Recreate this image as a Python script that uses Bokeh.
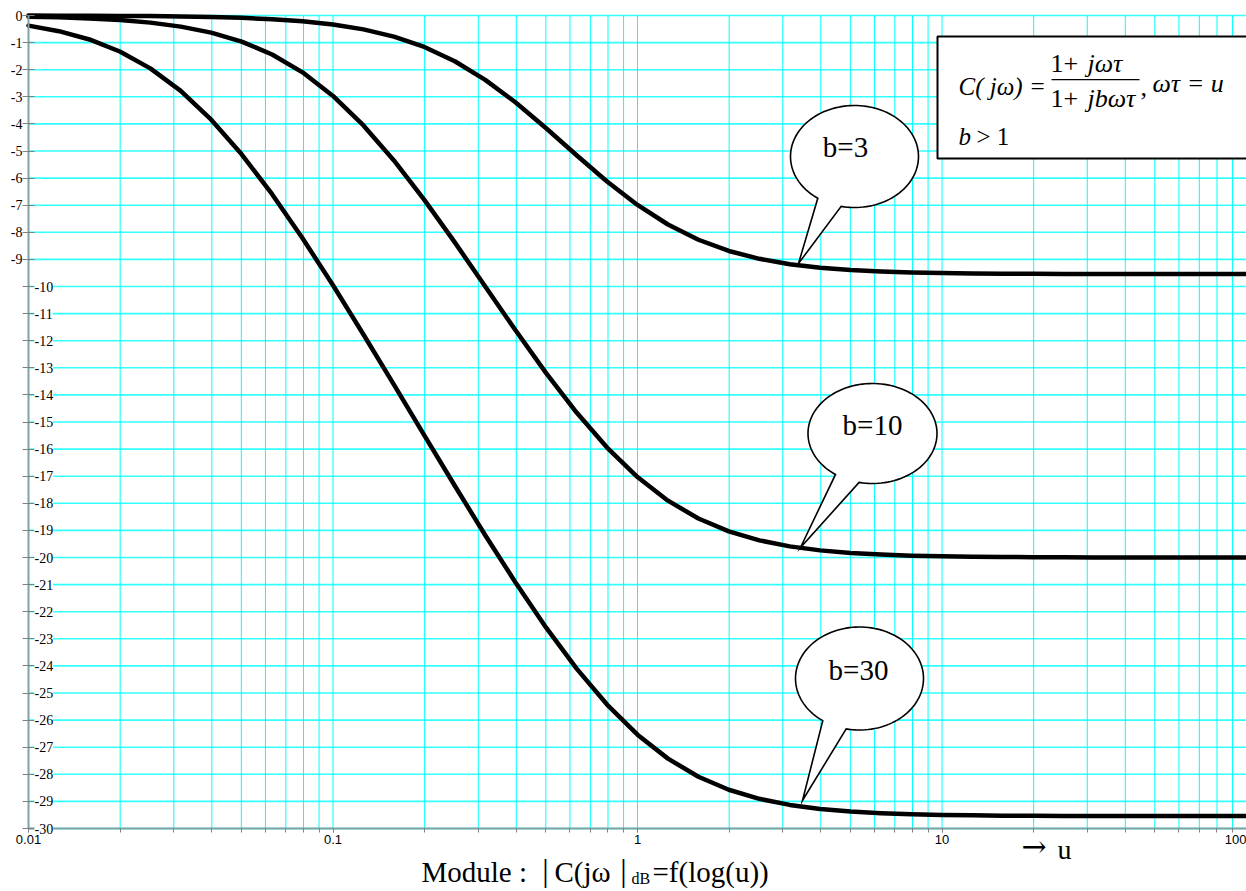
import numpy as np
from bokeh.plotting import figure
from bokeh.models import ColumnDataSource, LabelSet, Label, BoxAnnotation, FixedTicker, Range1d
from bokeh.embed import file_html
from bokeh.resources import INLINE

# Reduced frequency u = omega*tau, 10 points per decade
u = [0.01, 0.01259, 0.01585, 0.01995, 0.02512, 0.03162, 0.03981, 0.05012, 0.0631, 0.07943,
     0.1, 0.1259, 0.1585, 0.1995, 0.2512, 0.3162, 0.3981, 0.5012, 0.631, 0.7943,
     1.0, 1.259, 1.585, 1.995, 2.512, 3.162, 3.981, 5.012, 6.31, 7.943,
     10.0, 12.59, 15.85, 19.95, 25.12, 31.62, 39.81, 50.12, 63.1, 79.43, 100.0]

# |C(jw)| in dB for b = 3, 10, 30
mod_b3 = [-0.003, -0.006, -0.009, -0.014, -0.022, -0.035, -0.055, -0.086, -0.136, -0.213,
          -0.331, -0.511, -0.778, -1.160, -1.688, -2.374, -3.211, -4.160, -5.156, -6.123,
          -6.990, -7.712, -8.275, -8.689, -8.979, -9.177, -9.307, -9.392, -9.447, -9.482,
          -9.504, -9.518, -9.527, -9.533, -9.536, -9.539, -9.540, -9.541, -9.541, -9.542, -9.542]
mod_b10 = [-0.043, -0.068, -0.107, -0.168, -0.263, -0.410, -0.632, -0.962, -1.438, -2.097,
           -2.967, -4.056, -5.348, -6.804, -8.373, -10.000, -11.627, -13.197, -14.653, -15.944,
           -17.033, -17.903, -18.562, -19.038, -19.368, -19.590, -19.737, -19.832, -19.893, -19.932,
           -19.957, -19.973, -19.983, -19.989, -19.993, -19.996, -19.997, -19.998, -19.999, -19.999, -20.000]
mod_b30 = [-0.374, -0.578, -0.884, -1.328, -1.951, -2.783, -3.843, -5.122, -6.594, -8.220,
           -9.957, -11.769, -13.623, -15.492, -17.353, -19.177, -20.934, -22.589, -24.099, -25.426,
           -26.537, -27.421, -28.089, -28.570, -28.904, -29.129, -29.277, -29.373, -29.435, -29.474,
           -29.499, -29.515, -29.525, -29.532, -29.536, -29.538, -29.540, -29.541, -29.541, -29.542, -29.542]

y_ticks = [0, -1, -2, -3, -4, -5, -6, -7, -8, -9, -10, -11, -12, -13, -14, -15,
           -16, -17, -18, -19, -20, -21, -22, -23, -24, -25, -26, -27, -28, -29, -30]
y_tick_labels = [str(v) for v in y_ticks]
x_ticks = [0.01, 0.1, 1, 10, 100]
x_tick_labels = ["0.01", "0.1", "1", "10", "100"]
curve_names = ["b=3", "b=10", "b=30"]

W, H = 1246, 891
U_MIN, U_MAX = 0.01, 100.0
DB_MIN, DB_MAX = -30, 0
PX0, PY0 = 28, 15        # canvas pixel of (u=0.01, 0 dB)
DEC = 304.5              # pixels per decade
PER_DB = 27.1            # pixels per dB

def dx(px):
    return U_MIN * 10 ** ((np.asarray(px, dtype=float) - PX0) / DEC)

def dy(py):
    return -(np.asarray(py, dtype=float) - PY0) / PER_DB

SERIF = "Liberation Serif"
SANS = "Liberation Sans"
CYAN = "#00FFFF"

# the frame fills the whole canvas; axes are pinned inside it
p = figure(width=W, height=H, x_axis_type="log",
           x_range=Range1d(float(dx(0)), float(dx(W))),
           y_range=Range1d(float(dy(H)), float(dy(0))),
           output_backend="svg", toolbar_location=None,
           min_border_left=0, min_border_right=0, min_border_top=0, min_border_bottom=0)
p.outline_line_color = None
p.background_fill_color = "white"
p.border_fill_color = "white"
p.xgrid.visible = False
p.ygrid.visible = False

# logarithmic grid (1..9 per decade) and 1 dB grid, limited to the chart area
grid_x = [m * 10.0 ** e for e in range(-2, 2) for m in range(1, 10)] + [U_MAX]
p.segment(x0=[U_MIN] * len(y_ticks), y0=y_ticks, x1=[U_MAX] * len(y_ticks), y1=y_ticks,
          line_color="#33FFFF", line_width=1.6)
p.segment(x0=grid_x, y0=[DB_MIN] * len(grid_x), x1=grid_x, y1=[DB_MAX] * len(grid_x),
          line_color=CYAN, line_width=1)

xax = p.xaxis[0]
yax = p.yaxis[0]
xax.fixed_location = DB_MIN
yax.fixed_location = U_MIN
xax.bounds = (U_MIN, U_MAX)
yax.bounds = (DB_MIN, DB_MAX)
xax.ticker = FixedTicker(ticks=x_ticks, minor_ticks=grid_x)
yax.ticker = FixedTicker(ticks=y_ticks)
xax.major_label_overrides = {t: s for t, s in zip(x_ticks, x_tick_labels)}
for ax in (xax, yax):
    ax.axis_line_color = "#7FA3A3"
    ax.axis_line_width = 2
    ax.major_tick_line_color = "#808080"
    ax.minor_tick_line_color = "#808080"
xax.major_tick_in = 0
xax.major_tick_out = 4
xax.minor_tick_in = 0
xax.minor_tick_out = 4
xax.major_label_standoff = 2
xax.major_label_text_font = SANS
xax.major_label_text_font_size = "13px"
xax.major_label_text_color = "black"
yax.major_tick_in = 6
yax.major_tick_out = 6
yax.minor_tick_line_color = None
yax.major_label_text_font_size = "0px"
yax.major_label_text_alpha = 0

# the three magnitude curves
for vals in (mod_b3, mod_b10, mod_b30):
    p.line(u, vals, line_color="black", line_width=4.5, line_join="round", line_cap="round")

# y tick labels: short ones left of the axis, long ones just right of it
top_src = ColumnDataSource(dict(x=[U_MIN] * 10, y=y_ticks[:10], t=y_tick_labels[:10]))
bot_src = ColumnDataSource(dict(x=[U_MIN] * 21, y=y_ticks[10:], t=y_tick_labels[10:]))
p.add_layout(LabelSet(x="x", y="y", text="t", source=top_src, x_offset=-6,
                      text_align="right", text_baseline="middle",
                      text_font=SANS, text_font_size="14px", text_color="black"))
p.add_layout(LabelSet(x="x", y="y", text="t", source=bot_src, x_offset=6,
                      text_align="left", text_baseline="middle",
                      text_font=SANS, text_font_size="14px", text_color="black",
                      background_fill_color="white"))

# speech-bubble callouts naming each curve
bubbles = [
    dict(c=(854, 156), r=(64, 51), tip=(798, 263), txt=(845, 146)),
    dict(c=(872, 433), r=(64.5, 50), tip=(800, 547), txt=(872, 424)),
    dict(c=(859, 678), r=(64, 51.5), tip=(802, 800), txt=(858, 669)),
]
for name, b in zip(curve_names, bubbles):
    th = np.radians(np.linspace(125, 102 + 360, 120))
    px = list(b["c"][0] + b["r"][0] * np.cos(th)) + [b["tip"][0]]
    py = list(b["c"][1] + b["r"][1] * np.sin(th)) + [b["tip"][1]]
    p.patch(list(dx(px)), list(dy(py)), fill_color="white", line_color="black",
            line_width=1.6, line_join="miter")
    p.add_layout(Label(x=float(dx(b["txt"][0])), y=float(dy(b["txt"][1])), text=name,
                       text_align="center", text_baseline="middle",
                       text_font=SERIF, text_font_size="29px", text_color="black"))

# transfer-function box
p.add_layout(BoxAnnotation(left=float(dx(937)), right=1000.0, top=float(dy(36)), bottom=float(dy(158)),
                           fill_color="white", fill_alpha=1.0,
                           line_color="black", line_alpha=1.0, line_width=2))
p.add_layout(BoxAnnotation(left=float(dx(1051)), right=float(dx(1139)),
                           top=float(dy(78.4)), bottom=float(dy(79.7)),
                           fill_color="black", fill_alpha=1.0, line_color=None))

def lab(px, py, text, size="25px", style="normal", align="left", font=SERIF):
    p.add_layout(Label(x=float(dx(px)), y=float(dy(py)), text=text, text_align=align,
                       text_baseline="middle", text_font=font, text_font_size=size,
                       text_font_style=style, text_color="black"))

lab(958, 86, "C( jω) =", style="italic")
lab(1050, 63, "1+", size="26px")
lab(1087, 63, "jωτ", size="26px", style="italic")
lab(1050, 98, "1+", size="26px")
lab(1087, 98, "jbωτ", size="26px", style="italic")
lab(1140, 87, ",", size="26px")
lab(1152, 83, "ωτ = u", size="26px", style="italic")
lab(958, 136, "b", style="italic")
lab(976, 136, "> 1")

# axis captions
lab(1021, 846, "→", size="30px", font="DejaVu Serif")
lab(1057, 849, "u", size="28px")
lab(421, 871, "Module :", size="29px")
lab(545, 869, "|", size="32px", align="center")
lab(554, 871, "C(jω", size="29px")
lab(623, 869, "|", size="32px", align="center")
lab(631, 878, "dB", size="16px")
lab(652, 871, "=f(log(u))", size="29px")

open("out.html", "w").write(file_html(p, INLINE))
